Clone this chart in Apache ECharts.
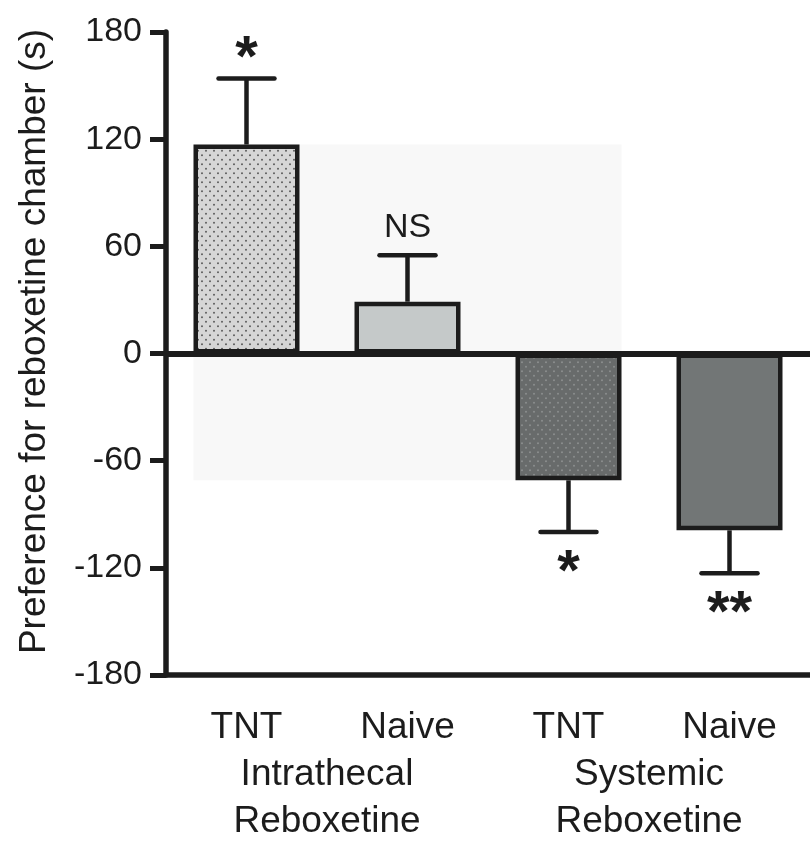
<!DOCTYPE html>
<html><head><meta charset="utf-8">
<script src="https://cdn.jsdelivr.net/npm/echarts@6/dist/echarts.min.js"></script>
<style>html,body{margin:0;padding:0;background:#fff}#c{width:810px;height:845px}</style>
</head><body><div id="c"></div>
<script>
// ---- data ----
const categories = ['TNT', 'Naive', 'TNT', 'Naive'];
const groups = ['Intrathecal\nReboxetine', 'Systemic\nReboxetine'];
const means = [117, 29, -71, -99];
const errors = [37, 26, 29, 24];
const annotations = ['*', 'NS', '*', '**'];
const yMin = -180, yMax = 180, yInterval = 60;
const yTitle = 'Preference for reboxetine chamber (s)';

// ---- styles ----
const FONT = '"Liberation Sans", Arial, Helvetica, sans-serif';
const INK = '#1c1c1c';
const BAR_HALF = 53;
function dots(bg, fg) {
  const c = document.createElement('canvas'); c.width = 8; c.height = 9;
  const g = c.getContext('2d'); g.fillStyle = bg; g.fillRect(0, 0, 8, 9);
  g.fillStyle = fg;
  [[2, 2.25], [6, 6.75]].forEach(p => { g.beginPath(); g.arc(p[0], p[1], 0.95, 0, Math.PI * 2); g.fill(); });
  return { image: c, repeat: 'repeat' };
}
const fills = [dots('#d6d6d6', '#555'), '#c5c9c9', dots('#686b6b', '#8e9191'), '#727676'];
const annFont = ['bold 58px ' + FONT, '34px ' + FONT, 'bold 58px ' + FONT, 'bold 58px ' + FONT];
const annOffset = [-18, -28, 42, 42];

const chart = echarts.init(document.getElementById('c'));
chart.setOption({
  animation: false,
  backgroundColor: '#fff',
  grid: { left: 166, top: 32, bottom: 166, width: 651 },
  xAxis: [{
    type: 'category', data: categories, position: 'bottom',
    axisLine: { onZero: false, lineStyle: { color: INK, width: 5.5 } },
    axisTick: { alignWithLabel: true, length: 16, lineStyle: { color: INK, width: 5, cap: 'round' } },
    axisLabel: { fontSize: 37, fontFamily: FONT, color: INK, margin: 34 }
  }, {
    type: 'category', data: groups, position: 'bottom', offset: 0,
    axisLine: { show: false }, axisTick: { show: false },
    axisLabel: { fontSize: 37, fontFamily: FONT, color: INK, lineHeight: 47, margin: 76 }
  }],
  yAxis: {
    type: 'value', min: yMin, max: yMax, interval: yInterval,
    name: yTitle, nameLocation: 'middle', nameGap: 113,
    nameTextStyle: { fontSize: 37, fontFamily: FONT, color: INK, padding: [0, 0, 0, 24] },
    axisLine: { show: true, onZero: false, lineStyle: { color: INK, width: 5.5 } },
    axisTick: { show: true, length: 16, lineStyle: { color: INK, width: 5 } },
    splitLine: { show: false },
    axisLabel: { fontSize: 34, fontFamily: FONT, color: INK, margin: 24 }
  },
  series: [{
    // faint shaded background band behind the first three bars
    type: 'custom', z: 0, silent: true,
    data: [[0, means[0], 2, means[2]]],
    renderItem: (params, api) => {
      const a = api.coord([api.value(0), api.value(1)]);
      const b = api.coord([api.value(2), api.value(3)]);
      return { type: 'rect', shape: { x: a[0] - BAR_HALF, y: a[1], width: b[0] - a[0] + 2 * BAR_HALF, height: b[1] - a[1] },
        style: { fill: '#f8f8f8' } };
    }
  }, {
    type: 'custom', z: 1,
    data: means.map((m, i) => [i, m, errors[i]]),
    renderItem: (params, api) => {
      const i = api.value(0), m = api.value(1), e = api.value(2);
      const a = api.coord([i, m]);
      const b = api.coord([i, m + (m >= 0 ? e : -e)]);
      const hw = 28;
      return { type: 'group', children: [
        { type: 'line', shape: { x1: a[0], y1: a[1], x2: b[0], y2: b[1] }, style: { stroke: INK, lineWidth: 4.5 } },
        { type: 'line', shape: { x1: b[0] - hw, y1: b[1], x2: b[0] + hw, y2: b[1] }, style: { stroke: INK, lineWidth: 4.5, lineCap: 'round' } }
      ] };
    }
  }, {
    type: 'bar', z: 3, barWidth: 2 * BAR_HALF,
    data: means.map((v, i) => ({ value: v, itemStyle: { color: fills[i] } })),
    itemStyle: { borderColor: INK, borderWidth: 4.5 },
    markLine: {
      silent: true, symbol: 'none', label: { show: false },
      lineStyle: { color: INK, width: 6, type: 'solid' },
      data: [{ yAxis: 0 }]
    }
  }, {
    type: 'custom', z: 5,
    data: means.map((m, i) => [i, m + (m >= 0 ? errors[i] : -errors[i])]),
    renderItem: (params, api) => {
      const idx = params.dataIndex;
      const p = api.coord([api.value(0), api.value(1)]);
      return { type: 'text', x: p[0], y: p[1] + annOffset[idx],
        style: { text: annotations[idx], font: annFont[idx], fill: INK, align: 'center', verticalAlign: 'middle' } };
    }
  }]
});
</script></body></html>
